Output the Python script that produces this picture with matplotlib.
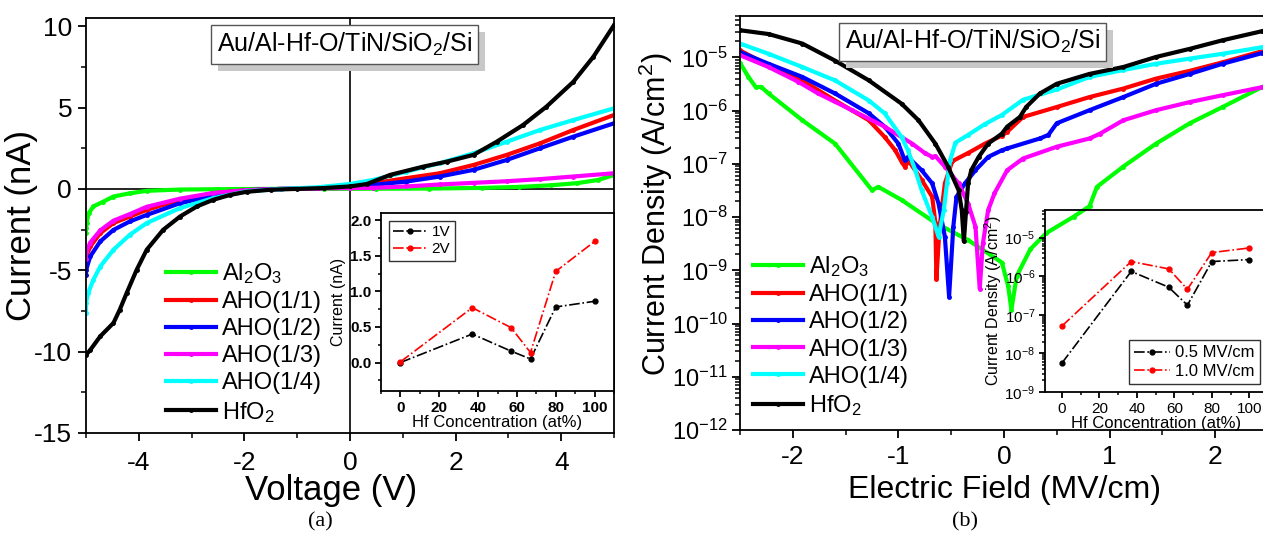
import matplotlib
matplotlib.use("Agg")
import matplotlib.pyplot as plt
from matplotlib.patches import Rectangle
from matplotlib.transforms import IdentityTransform
from matplotlib.ticker import MultipleLocator, LogLocator, NullFormatter, FormatStrFormatter

plt.rcParams['font.family'] = ['Liberation Sans', 'DejaVu Sans']
plt.rcParams['mathtext.fontset'] = 'custom'
plt.rcParams['mathtext.rm'] = 'Liberation Sans'
plt.rcParams['mathtext.it'] = 'Liberation Sans:italic'
plt.rcParams['mathtext.bf'] = 'Liberation Sans:bold'
plt.rcParams['mathtext.default'] = 'regular'
plt.rcParams['axes.linewidth'] = 1.3
plt.rcParams['axes.unicode_minus'] = False

# ---- dados: legenda / cores
nomes = ['Al$_2$O$_3$', 'AHO(1/1)', 'AHO(1/2)', 'AHO(1/3)', 'AHO(1/4)', 'HfO$_2$']
cores = ['#00ff00', '#ff0000', '#0000ff', '#ff00ff', '#00ffff', '#000000']

# ---- (a) I-V
v_al = [-5.0, -5.0, -4.99, -4.95, -4.86, -4.67, -4.48, -4.17, -3.85, -3.22, -2.5, -1.5, -0.5, 0.5, 1.5, 2.5, 3.2, 3.8, 4.3, 4.7, 5.0]
i_al = [-2.7, -2.4, -2.1, -1.5, -1.08, -0.78, -0.47, -0.27, -0.12, -0.04, -0.02, 0.0, 0.0, 0.01, 0.02, 0.06, 0.12, 0.22, 0.35, 0.55, 0.85]

v_11 = [-5.0, -5.0, -4.92, -4.73, -4.48, -4.17, -3.85, -3.22, -2.59, -1.96, -1.3, -0.6, 0.0, 0.44, 1.07, 1.70, 2.34, 2.97, 3.6, 4.23, 5.0]
i_11 = [-4.5, -4.2, -3.54, -2.72, -2.1, -1.7, -1.29, -0.67, -0.27, -0.08, 0.0, 0.05, 0.15, 0.35, 0.66, 0.96, 1.47, 2.09, 2.8, 3.62, 4.54]

v_12 = [-5.0, -5.0, -4.92, -4.73, -4.48, -4.17, -3.85, -3.22, -2.59, -1.96, -1.3, -0.6, 0.0, 0.44, 1.07, 1.70, 2.34, 2.97, 3.6, 4.23, 5.0]
i_12 = [-5.3, -5.0, -4.15, -3.23, -2.52, -2.0, -1.6, -0.88, -0.43, -0.08, 0.0, 0.05, 0.12, 0.25, 0.45, 0.76, 1.17, 1.78, 2.5, 3.21, 4.03]

v_13 = [-5.0, -5.0, -4.92, -4.73, -4.48, -4.17, -3.85, -3.22, -2.59, -1.96, -1.3, -0.6, 0.0, 0.44, 1.07, 1.70, 2.34, 2.97, 3.6, 4.23, 5.0]
i_13 = [-4.3, -3.9, -3.3, -2.55, -1.95, -1.55, -1.1, -0.6, -0.25, -0.08, 0.0, 0.03, 0.05, 0.06, 0.15, 0.27, 0.37, 0.47, 0.6, 0.76, 0.96]

v_14 = [-5.0, -5.0, -4.96, -4.86, -4.73, -4.48, -4.17, -3.85, -3.22, -2.59, -1.96, -1.3, -0.6, 0.0, 0.44, 1.07, 1.70, 2.34, 2.97, 3.6, 4.23, 5.0]
i_14 = [-7.6, -7.0, -6.4, -5.58, -4.77, -3.74, -2.82, -2.1, -1.18, -0.57, -0.15, 0.0, 0.1, 0.3, 0.55, 1.06, 1.58, 2.19, 2.9, 3.62, 4.23, 4.95]

v_hf = [-5.0, -4.92, -4.73, -4.48, -4.36, -4.23, -4.04, -3.85, -3.54, -3.22, -2.90, -2.59, -2.27, -1.96, -1.5, -1.0, -0.5, 0.0, 0.32, 0.76, 1.39, 1.83, 2.34, 2.78, 3.28, 3.72, 4.23, 4.61, 5.0]
i_hf = [-10.2, -9.9, -9.06, -8.24, -7.42, -6.4, -4.97, -3.74, -2.52, -1.70, -1.08, -0.67, -0.37, -0.18, -0.05, 0.0, 0.05, 0.15, 0.3, 0.86, 1.37, 1.67, 2.09, 2.9, 3.93, 5.05, 6.58, 8.12, 10.06]

# inset (a)
hf_conc = [0, 37, 57, 67, 80, 100]
i_1v = [0.0, 0.40, 0.16, 0.05, 0.78, 0.86]
i_2v = [0.01, 0.77, 0.49, 0.14, 1.28, 1.70]

# ---- (b) J-E
e_al = [-2.5, -2.42, -2.35, -2.30, -2.23, -1.91, -1.60, -1.25, -1.19, -0.97, -0.65, -0.34, -0.02, 0.04, 0.07, 0.12, 0.25, 0.40, 0.66, 0.81, 0.88, 1.13, 1.44, 1.76, 2.07, 2.44]
j_al = [7.9e-6, 4.3e-6, 2.75e-6, 2.8e-6, 2.1e-6, 6.6e-7, 2.4e-7, 3.2e-8, 3.7e-8, 2.1e-8, 7.8e-9, 3.7e-9, 1.4e-9, 5e-10, 1.8e-10, 7.8e-10, 2.5e-9, 5e-9, 1.02e-8, 1.6e-8, 3.7e-8, 8.9e-8, 2.4e-7, 5.8e-7, 1.17e-6, 2.75e-6]

e_11 = [-2.5, -2.23, -1.91, -1.60, -1.28, -1.13, -1.03, -0.97, -0.94, -0.90, -0.78, -0.68, -0.65, -0.64, -0.61, -0.56, -0.49, -0.34, -0.18, -0.02, 0.03, 0.18, 0.50, 0.81, 1.13, 1.44, 1.76, 2.07, 2.44]
j_11 = [1.35e-5, 7.1e-6, 3.7e-6, 1.55e-6, 6.6e-7, 3.2e-7, 1.8e-7, 1.1e-7, 8.9e-8, 1.12e-7, 5e-8, 2.4e-8, 7.8e-9, 7e-10, 6.6e-9, 4.3e-8, 1.12e-7, 1.6e-7, 2.4e-7, 3.4e-7, 4e-7, 7.6e-7, 1.17e-6, 1.8e-6, 2.6e-6, 4.0e-6, 5.6e-6, 8.1e-6, 1.3e-5]

e_12 = [-2.5, -2.23, -1.91, -1.60, -1.28, -1.13, -1.00, -0.94, -0.91, -0.78, -0.68, -0.62, -0.56, -0.52, -0.48, -0.45, -0.37, -0.27, -0.15, -0.02, 0.03, 0.34, 0.42, 0.50, 0.81, 1.13, 1.44, 1.76, 2.07, 2.44]
j_12 = [1.26e-5, 7.6e-6, 4.3e-6, 2.1e-6, 8.9e-7, 5.0e-7, 2.4e-7, 1.17e-7, 1.35e-7, 7.6e-8, 4.3e-8, 1.8e-8, 4.3e-9, 3.2e-10, 6.6e-9, 2.4e-8, 4.3e-8, 7.6e-8, 1.35e-7, 1.8e-7, 1.95e-7, 3.0e-7, 3.5e-7, 5.8e-7, 1.02e-6, 1.8e-6, 3.2e-6, 4.9e-6, 7.6e-6, 1.2e-5]

e_13 = [-2.5, -2.23, -1.95, -1.76, -1.44, -1.13, -0.87, -0.75, -0.68, -0.65, -0.56, -0.43, -0.34, -0.27, -0.23, -0.20, -0.15, -0.09, 0.03, 0.18, 0.50, 0.81, 0.91, 1.13, 1.44, 1.76, 2.07, 2.44]
j_13 = [1.1e-5, 6.6e-6, 3.5e-6, 2.1e-6, 1.02e-6, 5.0e-7, 2.4e-7, 1.6e-7, 1.35e-7, 1.4e-7, 8.9e-8, 4.3e-8, 1.8e-8, 6.6e-9, 4.5e-10, 3.2e-9, 1.35e-8, 2.8e-8, 7.6e-8, 1.26e-7, 2.1e-7, 3.0e-7, 3.7e-7, 6.6e-7, 1.02e-6, 1.45e-6, 1.95e-6, 2.75e-6]

e_14 = [-2.5, -2.23, -1.91, -1.60, -1.28, -1.13, -0.97, -0.91, -0.84, -0.78, -0.68, -0.62, -0.57, -0.54, -0.51, -0.46, -0.34, -0.18, -0.02, 0.18, 0.50, 0.81, 1.13, 1.44, 1.76, 2.07, 2.44]
j_14 = [1.82e-5, 1.17e-5, 6.6e-6, 3.7e-6, 1.55e-6, 8.9e-7, 3.2e-7, 1.8e-7, 7.6e-8, 3.2e-8, 1.0e-8, 4.3e-9, 1.35e-8, 4.3e-8, 1.17e-7, 2.5e-7, 3.5e-7, 5.6e-7, 8.3e-7, 1.6e-6, 2.5e-6, 4.3e-6, 5.8e-6, 7.6e-6, 9.5e-6, 1.17e-5, 1.55e-5]

e_hf = [-2.5, -2.23, -1.91, -1.60, -1.28, -0.97, -0.81, -0.65, -0.53, -0.43, -0.40, -0.38, -0.36, -0.34, -0.31, -0.24, -0.15, -0.02, 0.03, 0.15, 0.21, 0.34, 0.50, 0.81, 1.13, 1.44, 1.76, 2.07, 2.44]
j_hf = [3.24e-5, 2.75e-5, 1.82e-5, 8.7e-6, 3.7e-6, 1.35e-6, 6.6e-7, 2.4e-7, 8.9e-8, 3.2e-8, 1.35e-8, 3.5e-9, 1.26e-8, 4.3e-8, 7.6e-8, 1.35e-7, 2.4e-7, 3.7e-7, 5.0e-7, 7.6e-7, 1.17e-6, 2.1e-6, 3.2e-6, 4.9e-6, 6.6e-6, 1.02e-5, 1.45e-5, 2.1e-5, 3.1e-5]

# inset (b)
j_05 = [5.6e-9, 1.33e-6, 5.2e-7, 1.78e-7, 2.4e-6, 2.7e-6]
j_10 = [5.1e-8, 2.4e-6, 1.55e-6, 4.6e-7, 4.1e-6, 5.4e-6]

curvas_a = [(v_al, i_al), (v_11, i_11), (v_12, i_12), (v_13, i_13), (v_14, i_14), (v_hf, i_hf)]
curvas_b = [(e_al, j_al), (e_11, j_11), (e_12, j_12), (e_13, j_13), (e_14, j_14), (e_hf, j_hf)]

titulo = 'Au/Al-Hf-O/TiN/SiO$_2$/Si'

fig = plt.figure(figsize=(12.63, 5.42), dpi=100)
W, H = 1263, 542


def px(x0, y0, x1, y1):
    # caixa em pixels da imagem -> fração da figura
    return [x0 / W, 1 - y1 / H, (x1 - x0) / W, (y1 - y0) / H]


def ticks(ax, fs, comp=6, bold=False, xpad=3, ypad=3):
    ax.tick_params(which='major', direction='out', length=comp, width=1.3, labelsize=fs,
                   top=False, right=False)
    ax.tick_params(which='minor', direction='out', length=comp * 0.6, width=1.1,
                   top=False, right=False)
    ax.tick_params(axis='x', pad=xpad)
    ax.tick_params(axis='y', pad=ypad)
    if bold:
        for t in ax.get_xticklabels() + ax.get_yticklabels():
            t.set_fontweight('bold')


caixas = []


def caixa_titulo(ax, x, y):
    t = ax.text(x, y, titulo, transform=ax.transAxes, ha='center', va='center', fontsize=18,
                zorder=9, bbox=dict(boxstyle='square,pad=0.22', fc='white', ec='#555555', lw=1))
    caixas.append((ax, t))


def legenda(ax, x, y):
    ax.legend(loc='upper left', bbox_to_anchor=(x, y), frameon=False, fontsize=17,
              handlelength=2.1, handletextpad=0.25, labelspacing=0.22, numpoints=1,
              borderpad=0, borderaxespad=0)


# ================= (a)
ax1 = fig.add_axes(px(86, 18, 614, 433))
for (x, y), c, n in zip(curvas_a, cores, nomes):
    ax1.plot(x, y, color=c, lw=3, marker='o', ms=2.5, label=n)
ax1.axhline(0, color='black', lw=1.2, zorder=0)
ax1.axvline(0, color='black', lw=1.2, zorder=0)
ax1.set_xlim(-5, 5)
ax1.set_ylim(-15, 10.5)
ax1.xaxis.set_major_locator(MultipleLocator(2))
ax1.xaxis.set_minor_locator(MultipleLocator(1))
ax1.yaxis.set_major_locator(MultipleLocator(5))
ax1.yaxis.set_minor_locator(MultipleLocator(2.5))
ticks(ax1, 19, xpad=7, ypad=4)
ax1.set_xlabel('Voltage (V)', fontsize=25)
ax1.set_ylabel('Current (nA)', fontsize=25)
ax1.yaxis.set_label_coords(-0.09, 0.5)
ax1.xaxis.set_label_coords(0.465, -0.098)
legenda(ax1, 0.152, 0.415)
caixa_titulo(ax1, 0.49, 0.936)

ins1 = fig.add_axes(px(381, 213, 614, 391))
ins1.plot(hf_conc, i_1v, color='black', ls='-.', lw=1.2, marker='o', ms=3.5, label='1V')
ins1.plot(hf_conc, i_2v, color='red', ls='-.', lw=1.2, marker='o', ms=3.5, label='2V')
ins1.set_xlim(-10, 110)
ins1.set_ylim(-0.4, 2.1)
ins1.xaxis.set_major_locator(MultipleLocator(20))
ins1.xaxis.set_minor_locator(MultipleLocator(10))
ins1.yaxis.set_major_locator(MultipleLocator(0.5))
ins1.yaxis.set_minor_locator(MultipleLocator(0.25))
ins1.yaxis.set_major_formatter(FormatStrFormatter('%.1f'))
ticks(ins1, 11, comp=4, bold=True)
ins1.set_xlabel('Hf Concentration (at%)', fontsize=12, labelpad=0)
ins1.set_ylabel('Current (nA)', fontsize=11.5, labelpad=3)
ins1.legend(loc='upper left', frameon=True, fancybox=False, edgecolor='black',
            handlelength=2.2, handletextpad=0.3, labelspacing=0.2, borderpad=0.3,
            borderaxespad=0.5, numpoints=1, prop={'size': 11})

# ================= (b)
ax2 = fig.add_axes(px(740, 16, 1268, 430))
for (x, y), c, n in zip(curvas_b, cores, nomes):
    ax2.plot(x, y, color=c, lw=3, marker='o', ms=2.5, label=n)
ax2.set_yscale('log')
ax2.set_xlim(-2.5, 2.5)
ax2.set_ylim(1e-12, 6e-5)
ax2.xaxis.set_major_locator(MultipleLocator(1))
ax2.xaxis.set_minor_locator(MultipleLocator(0.5))
ax2.yaxis.set_major_locator(LogLocator(base=10, numticks=20))
ax2.yaxis.set_minor_locator(LogLocator(base=10, subs=range(2, 10), numticks=20))
ax2.yaxis.set_minor_formatter(NullFormatter())
ticks(ax2, 19, xpad=5, ypad=3)
ax2.tick_params(axis='y', labelsize=17)
ax2.set_xlabel('Electric Field (MV/cm)', fontsize=23)
ax2.set_ylabel('Current Density (A/cm$^2$)', fontsize=22)
ax2.yaxis.set_label_coords(-0.123, 0.52)
ax2.xaxis.set_label_coords(0.5, -0.108)
legenda(ax2, 0.025, 0.425)
caixa_titulo(ax2, 0.44, 0.938)

ins2 = fig.add_axes(px(1045, 210, 1268, 392))
ins2.set_facecolor('none')
ins2.plot(hf_conc, j_05, color='black', ls='-.', lw=1.2, marker='o', ms=3.5, label='0.5 MV/cm')
ins2.plot(hf_conc, j_10, color='red', ls='-.', lw=1.2, marker='o', ms=3.5, label='1.0 MV/cm')
ins2.set_yscale('log')
ins2.set_xlim(-9, 110)
ins2.set_ylim(1e-9, 5.2e-5)
ins2.xaxis.set_major_locator(MultipleLocator(20))
ins2.xaxis.set_minor_locator(MultipleLocator(10))
ins2.yaxis.set_major_locator(LogLocator(base=10, numticks=10))
ins2.yaxis.set_minor_locator(LogLocator(base=10, subs=range(2, 10), numticks=10))
ins2.yaxis.set_minor_formatter(NullFormatter())
ticks(ins2, 11, comp=4)
ins2.set_xlabel('Hf Concentration (at%)', fontsize=12, labelpad=0)
ins2.set_ylabel('Current Density (A/cm$^2$)', fontsize=11.5, labelpad=0)
ins2.legend(loc='lower right', fontsize=12, frameon=True, fancybox=False, edgecolor='black',
            handlelength=2.2, handletextpad=0.3, labelspacing=0.2, borderpad=0.3,
            borderaxespad=0.5, numpoints=1)

fig.text(320 / W, 1 - 522 / H, '(a)', family='Liberation Serif', fontsize=16, ha='center', va='center')
fig.text(965 / W, 1 - 522 / H, '(b)', family='Liberation Serif', fontsize=16, ha='center', va='center')

# sombra cinza atrás das caixas de título
fig.canvas.draw()
for ax, t in caixas:
    bb = t.get_bbox_patch().get_window_extent()
    ax.add_patch(Rectangle((bb.x0 + 7, bb.y0 - 7), bb.width, bb.height, transform=IdentityTransform(),
                           fc='#c8c8c8', ec='none', zorder=8, clip_on=False))

fig.savefig('out.png', dpi=100)
